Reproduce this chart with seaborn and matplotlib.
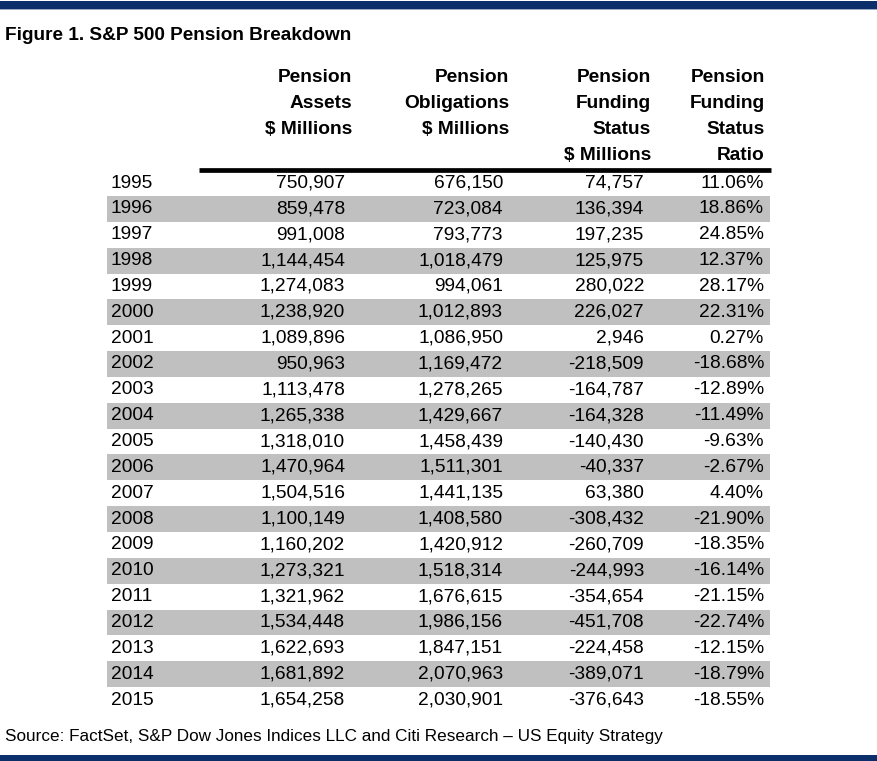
import matplotlib
matplotlib.use('Agg')
import matplotlib.pyplot as plt
from matplotlib.colors import ListedColormap
import numpy as np
import seaborn as sns

# table data
years = list(range(1995, 2016))
assets = [750907, 859478, 991008, 1144454, 1274083, 1238920, 1089896, 950963, 1113478,
          1265338, 1318010, 1470964, 1504516, 1100149, 1160202, 1273321, 1321962, 1534448,
          1622693, 1681892, 1654258]
obligations = [676150, 723084, 793773, 1018479, 994061, 1012893, 1086950, 1169472, 1278265,
               1429667, 1458439, 1511301, 1441135, 1408580, 1420912, 1518314, 1676615,
               1986156, 1847151, 2070963, 2030901]
funding_status = [74757, 136394, 197235, 125975, 280022, 226027, 2946, -218509, -164787,
                  -164328, -140430, -40337, 63380, -308432, -260709, -244993, -354654,
                  -451708, -224458, -389071, -376643]
funding_ratio = [11.06, 18.86, 24.85, 12.37, 28.17, 22.31, 0.27, -18.68, -12.89, -11.49,
                 -9.63, -2.67, 4.40, -21.90, -18.35, -16.14, -21.15, -22.74, -12.15,
                 -18.79, -18.55]
headers = [['Pension', 'Assets', '$ Millions'],
           ['Pension', 'Obligations', '$ Millions'],
           ['Pension', 'Funding', 'Status', '$ Millions'],
           ['Pension', 'Funding', 'Status', 'Ratio']]
title = 'Figure 1. S&P 500 Pension Breakdown'
source = 'Source: FactSet, S&P Dow Jones Indices LLC and Citi Research \u2013 US Equity Strategy'

sns.set_theme(style='white')
plt.rcParams['font.family'] = ['Liberation Sans', 'DejaVu Sans']
plt.rcParams['text.color'] = 'black'

W, H = 877, 761
navy = '#0b2f6b'
gray = '#c0c0c0'
row_h = 25.85
row_top = 170.1
n = len(years)

fig = plt.figure(figsize=(W / 100, H / 100), dpi=100)
fig.patch.set_facecolor('white')

# striped rows through a one-column heatmap
stripes = np.array([[i % 2] for i in range(n)])
hx0, hx1 = 107, 770
hax = fig.add_axes([hx0 / W, 1 - (row_top + n * row_h) / H, (hx1 - hx0) / W, n * row_h / H])
sns.heatmap(stripes, ax=hax, cmap=ListedColormap(['white', gray]), cbar=False,
            xticklabels=False, yticklabels=False, linewidths=0)
hax.set_axis_off()

# overlay in pixel coordinates
ax = fig.add_axes([0, 0, 1, 1])
ax.set_xlim(0, W)
ax.set_ylim(H, 0)
ax.set_axis_off()
ax.patch.set_alpha(0)

ax.axhspan(1, 9.3, color=navy, lw=0)
ax.axhspan(9.3, 10.3, color='#9aa8c2', lw=0)
ax.axhspan(754.5, 761, color=navy, lw=0)

# no condensed face installed, so the narrow title/source are set smaller to keep their width
ax.text(5, 40.5, title, fontsize=13.7, fontweight='bold', va='baseline', ha='left')
ax.text(5, 740.5, source, fontsize=12.3, va='baseline', ha='left')

head_right = [352, 509, 651, 765]
data_right = [345, 503, 644, 764]
for xr, lines in zip(head_right, headers):
    for k, s in enumerate(lines):
        ax.text(xr, 78 + 25.7 * k, s, fontsize=13.8, fontweight='bold', ha='right', va='center')

ax.plot([199, 771], [170.3, 170.3], color='black', lw=3.4, solid_capstyle='butt')

cols = [[f'{v:,}' for v in assets], [f'{v:,}' for v in obligations],
        [f'{v:,}' for v in funding_status], [f'{v:.2f}%' for v in funding_ratio]]
for i, yr in enumerate(years):
    y = row_top + (i + 0.5) * row_h
    ax.text(111, y, str(yr), fontsize=13.8, ha='left', va='center')
    for xr, col in zip(data_right, cols):
        ax.text(xr, y, col[i], fontsize=13.8, ha='right', va='center')

fig.savefig('out.png', dpi=100)
